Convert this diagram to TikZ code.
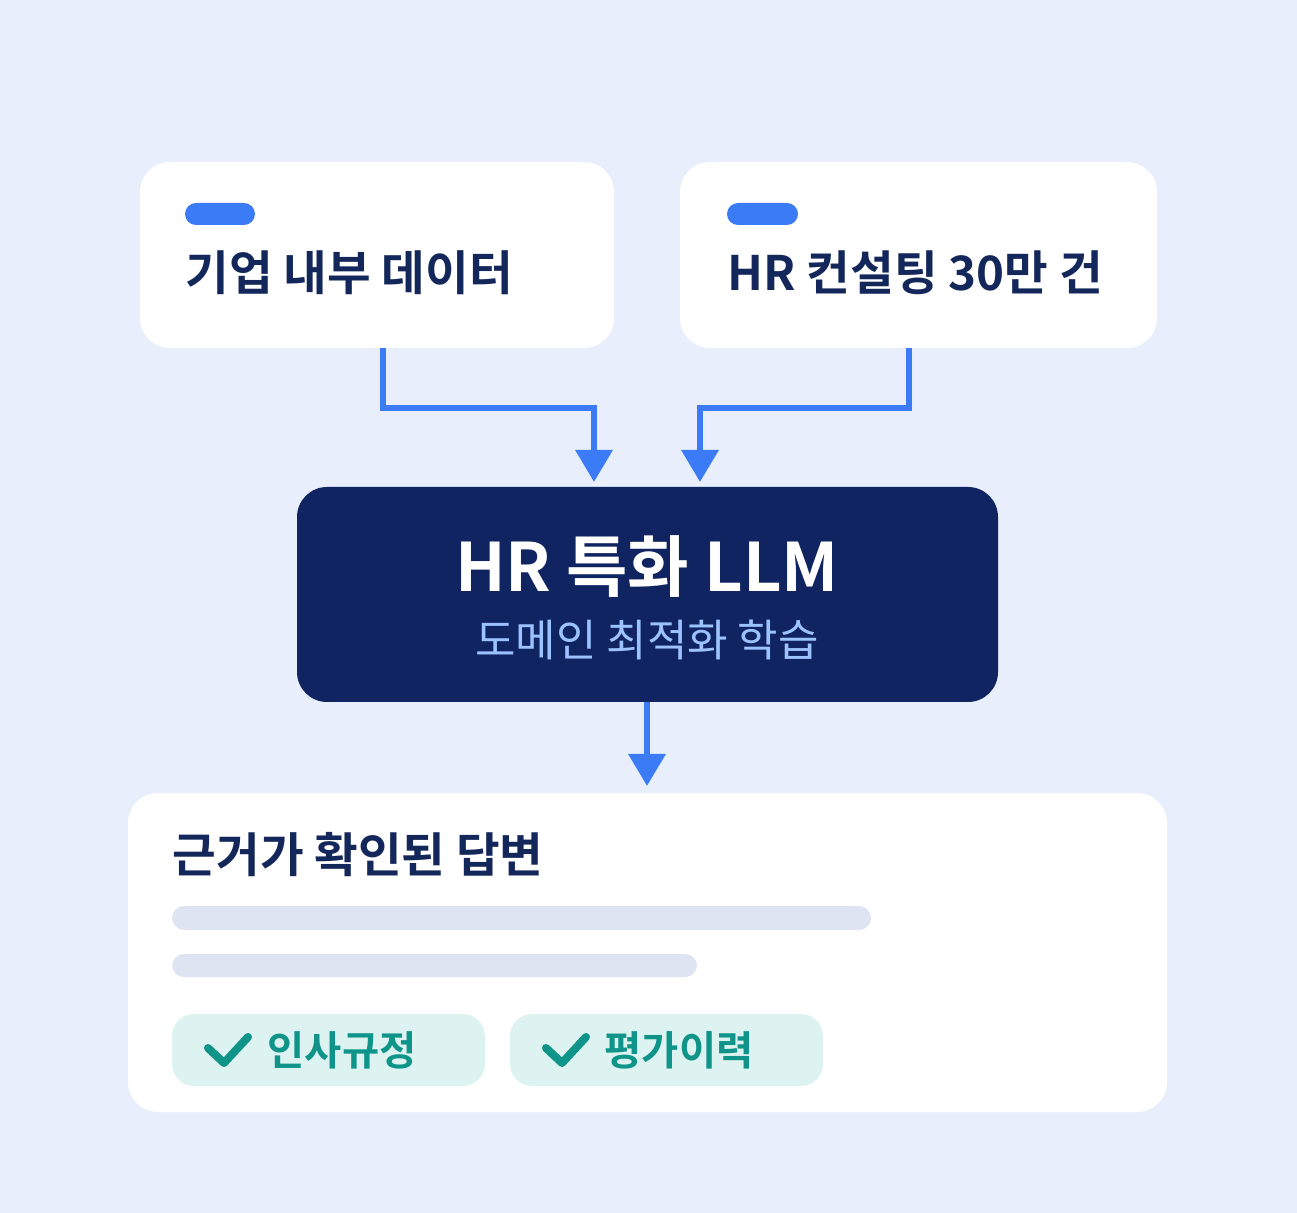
\documentclass[tikz,border=0pt]{standalone}
\usepackage{fontspec}
\newfontfamily\kr{Noto Sans CJK KR}[BoldFont={Noto Sans CJK KR Bold}]
\usetikzlibrary{arrows.meta,positioning}
\definecolor{bgblue}{HTML}{E8EEFC}
\definecolor{navy}{HTML}{0F2461}
\definecolor{inktext}{HTML}{14275A}
\definecolor{flow}{HTML}{3B7BF6}
\definecolor{subblue}{HTML}{9CC3FF}
\definecolor{barg}{HTML}{DFE4F3}
\definecolor{chipbg}{HTML}{DDF3F1}
\definecolor{teal}{HTML}{0E9488}
\tikzset{
  card/.style={fill=white,rounded corners=0.3cm,draw=none},
  flowline/.style={draw=flow,line width=0.65mm,-{Triangle[width=3.6mm,length=3.2mm]}},
  label/.style={anchor=west,inner sep=0pt,text=inktext,font=\kr\bfseries\fontsize{13.5}{16}\selectfont},
  chip/.style={fill=chipbg,rounded corners=0.22cm},
  tick/.style={draw=teal,line width=0.8mm,line cap=round,line join=round}
}
\begin{document}
\begin{tikzpicture}[x=0.01cm,y=-0.01cm]
\fill[bgblue] (0,0) rectangle (1297,1213);
% source cards
\fill[card] (140,162) rectangle (614,348);
\fill[card] (680,162) rectangle (1157,348);
\fill[flow,rounded corners=0.11cm] (185,203) rectangle (255,225);
\fill[flow,rounded corners=0.11cm] (727,203) rectangle (798,225);
\node[label] (src1) at (185,273) {기업 내부 데이터};
\node[label] (src2) at (727,273) {HR 컨설팅 30만 건};
% model
\fill[navy,rounded corners=0.3cm] (297,487) rectangle (998,702);
\node[text=white,font=\kr\bfseries\fontsize{19}{22}\selectfont] (llm) at (647,567) {HR 특화 LLM};
\node[text=subblue,font=\kr\fontsize{12.5}{15}\selectfont] (sub) at (647,640) {도메인 최적화 학습};
\coordinate (s1) at (383,348);
\coordinate (s2) at (909,348);
\coordinate (t1) at (594,482);
\coordinate (t2) at (700,482);
\draw[flowline] (s1) |- (594,408) -- (t1);
\draw[flowline] (s2) |- (700,408) -- (t2);
\coordinate (m) at (647,702);
\coordinate (r) at (647,786);
\draw[flowline] (m) -- (r);
% answer card
\fill[card] (128,793) rectangle (1167,1112);
\node[label] (ans) at (172,855) {근거가 확인된 답변};
\fill[barg,rounded corners=0.12cm] (172,906) rectangle (871,930);
\fill[barg,rounded corners=0.12cm] (172,954) rectangle (697,977);
\fill[chip] (172,1014) rectangle (485,1086);
\fill[chip] (510,1014) rectangle (823,1086);
\draw[tick] (208,1048) -- (224,1063) -- (248,1037);
\draw[tick] (546,1048) -- (562,1063) -- (586,1037);
\node[anchor=west,inner sep=0pt,text=teal,font=\kr\bfseries\fontsize{11.5}{14}\selectfont] (c1) at (267,1050) {인사규정};
\node[anchor=west,inner sep=0pt,text=teal,font=\kr\bfseries\fontsize{11.5}{14}\selectfont] (c2) at (604,1050) {평가이력};
\end{tikzpicture}
\end{document}
